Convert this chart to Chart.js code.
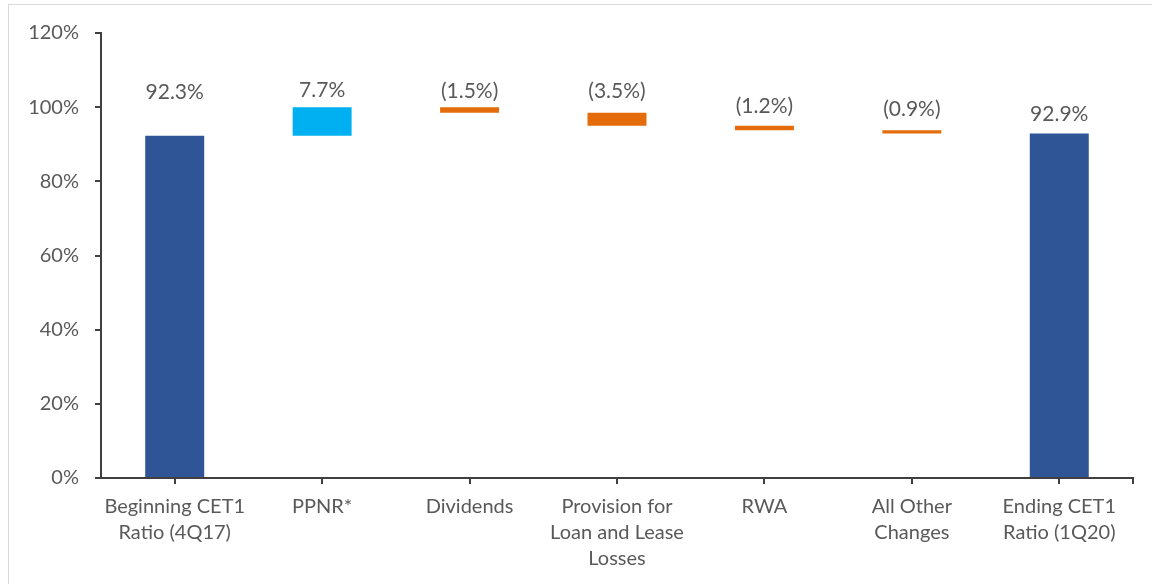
<!DOCTYPE html>
<html>
<head>
<meta charset="utf-8">
<script src="https://cdn.jsdelivr.net/npm/chart.js@4/dist/chart.umd.min.js"></script>
<style>
  html, body { margin: 0; padding: 0; background: #ffffff; }
  #wrap { position: absolute; left: 0; top: 0; width: 1152px; height: 584px; }
</style>
</head>
<body>
<div id="wrap"><canvas id="c" width="1152" height="584"></canvas></div>
<script>
// ---- data ----
const categories = [
  ['Beginning CET1', 'Ratio (4Q17)'],
  ['PPNR*'],
  ['Dividends'],
  ['Provision for', 'Loan and Lease', 'Losses'],
  ['RWA'],
  ['All Other', 'Changes'],
  ['Ending CET1', 'Ratio (1Q20)']
];
const changes = [92.3, 7.7, -1.5, -3.5, -1.2, -0.9, 92.9];
const barKinds = ['total', 'step', 'step', 'step', 'step', 'step', 'total'];
const yTicks = [0, 20, 40, 60, 80, 100, 120];

// ---- build floating ranges ----
const ranges = [];
let running = 0;
changes.forEach((v, i) => {
  if (barKinds[i] === 'total') {
    ranges.push([0, v]);
    running = v;
  } else {
    const start = running;
    running = +(running + v).toFixed(4);
    ranges.push([start, running]);
  }
});
const colors = changes.map((v, i) =>
  barKinds[i] === 'total' ? '#2F5597' : (v >= 0 ? '#00B0F0' : '#E46C0A'));

function fmt(v) {
  const s = Math.abs(v).toFixed(1) + '%';
  return v < 0 ? '(' + s + ')' : s;
}

const FONT = 'Lato, "Open Sans", sans-serif';
const TXT = '#595959';
const AX = '#404040';

const decorPlugin = {
  id: 'decor',
  beforeDraw(chart) {
    const ctx = chart.ctx;
    ctx.save();
    ctx.strokeStyle = '#D9D9D9';
    ctx.lineWidth = 1;
    ctx.strokeRect(8.5, 4.5, 3000, 3000);
    ctx.restore();
  },
  afterDraw(chart) {
    const ctx = chart.ctx;
    const ca = chart.chartArea;
    ctx.save();
    ctx.strokeStyle = AX;
    ctx.lineWidth = 2;
    ctx.beginPath();
    ctx.moveTo(ca.right, ca.bottom);
    ctx.lineTo(ca.right, ca.bottom + 6);
    ctx.stroke();
    const offsets = chart.options.plugins.decor.offsets;
    const meta = chart.getDatasetMeta(0);
    ctx.fillStyle = TXT;
    ctx.font = '21px ' + FONT;
    ctx.textAlign = 'center';
    ctx.textBaseline = 'middle';
    meta.data.forEach((el, i) => {
      const top = Math.min(el.y, el.base);
      ctx.fillText(fmt(changes[i]), el.x, top - offsets[i]);
    });
    ctx.restore();
  }
};

new Chart(document.getElementById('c'), {
  type: 'bar',
  data: {
    labels: categories,
    datasets: [{
      data: ranges,
      backgroundColor: colors,
      borderWidth: 0,
      barPercentage: 1,
      categoryPercentage: 0.4
    }]
  },
  options: {
    responsive: false,
    animation: false,
    events: [],
    layout: { padding: { top: 33, right: 19, left: 0, bottom: 0 } },
    plugins: {
      legend: { display: false },
      tooltip: { enabled: false },
      decor: { offsets: [43, 17, 16, 21, 19, 21, 19] }
    },
    scales: {
      x: {
        offset: true,
        grid: {
          offset: false,
          drawOnChartArea: false,
          drawTicks: true,
          tickLength: 6,
          color: AX,
          lineWidth: 2
        },
        border: { color: AX, width: 2 },
        ticks: {
          color: TXT,
          font: { family: FONT, size: 20, lineHeight: 1.3 },
          padding: 10,
          maxRotation: 0,
          autoSkip: false
        },
        afterFit(scale) { scale.height = 584 - 478; }
      },
      y: {
        min: 0,
        max: 120,
        afterBuildTicks(scale) { scale.ticks = yTicks.map(v => ({ value: v })); },
        grid: {
          drawOnChartArea: false,
          drawTicks: true,
          tickLength: 6,
          color: AX,
          lineWidth: 2
        },
        border: { color: AX, width: 2 },
        ticks: {
          color: TXT,
          font: { family: FONT, size: 20 },
          padding: 16,
          callback: v => v + '%'
        },
        afterFit(scale) { scale.width = 101; }
      }
    }
  },
  plugins: [decorPlugin]
});
</script>
</body>
</html>
